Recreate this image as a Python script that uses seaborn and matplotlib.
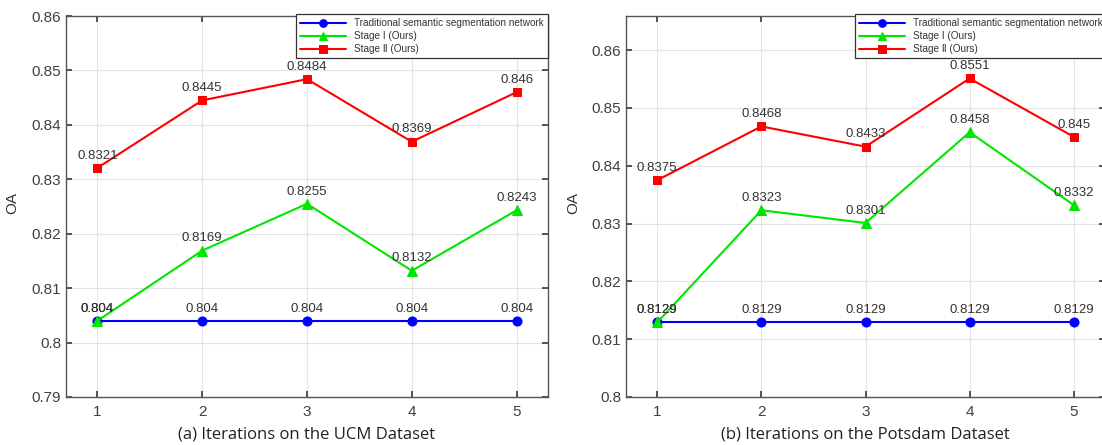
import matplotlib
matplotlib.use("Agg")
import matplotlib.pyplot as plt
import seaborn as sns
import pandas as pd
import numpy as np

iterations = [1, 2, 3, 4, 5]
series_names = ["Traditional semantic segmentation network", "Stage \u2160 (Ours)", "Stage \u2161 (Ours)"]

ucm_traditional = [0.804, 0.804, 0.804, 0.804, 0.804]
ucm_stage1 = [0.804, 0.8169, 0.8255, 0.8132, 0.8243]
ucm_stage2 = [0.8321, 0.8445, 0.8484, 0.8369, 0.846]

pots_traditional = [0.8129, 0.8129, 0.8129, 0.8129, 0.8129]
pots_stage1 = [0.8129, 0.8323, 0.8301, 0.8458, 0.8332]
pots_stage2 = [0.8375, 0.8468, 0.8433, 0.8551, 0.845]

ucm_yticks = [0.79, 0.80, 0.81, 0.82, 0.83, 0.84, 0.85, 0.86]
ucm_yticklabels = ["0.79", "0.8", "0.81", "0.82", "0.83", "0.84", "0.85", "0.86"]
pots_yticks = [0.80, 0.81, 0.82, 0.83, 0.84, 0.85, 0.86]
pots_yticklabels = ["0.8", "0.81", "0.82", "0.83", "0.84", "0.85", "0.86"]

xlabels = ["(a) Iterations on the UCM Dataset", "(b) Iterations on the Potsdam Dataset"]

sns.set_theme(style="whitegrid")
plt.rcParams["font.family"] = ["Liberation Sans", "DejaVu Sans"]

colors = ["#0000ff", "#00e600", "#ff0000"]
markers = ["o", "^", "s"]
msizes = [6.5, 7, 6]

fig = plt.figure(figsize=(11.02, 4.45), dpi=100)
W, H = 1102, 445
ax1 = fig.add_axes([66 / W, 1 - 397 / H, (548 - 66) / W, (397 - 16) / H])
ax2 = fig.add_axes([626 / W, 1 - 397 / H, (1105 - 626) / W, (397 - 16) / H])


def draw(ax, data_lists, yticks, ylabels, ylim, xlabel, legend_x):
    frames = []
    for name, vals in zip(series_names, data_lists):
        frames.append(pd.DataFrame({"Iteration": iterations, "OA": vals, "Series": name}))
    df = pd.concat(frames, ignore_index=True)
    for name, c, m, ms in zip(series_names, colors, markers, msizes):
        sub = df[df["Series"] == name]
        sns.lineplot(data=sub, x="Iteration", y="OA", ax=ax, color=c, marker=m,
                     markersize=ms, markeredgecolor=c, linewidth=1.5, label=name)
    for name in series_names:
        sub = df[df["Series"] == name]
        for xv, yv in zip(sub["Iteration"], sub["OA"]):
            ax.annotate(f"{yv:g}", (xv, yv), xytext=(0, 4.5), textcoords="offset points",
                        ha="center", va="bottom", fontsize=9.5, color="#333333")
    ax.set_xlim(0.7, 5.3)
    ax.set_ylim(*ylim)
    ax.set_xticks(iterations)
    ax.set_xticklabels([str(i) for i in iterations])
    ax.set_yticks(yticks)
    ax.set_yticklabels(ylabels)
    ax.tick_params(axis="both", labelsize=11, colors="#404040", direction="in",
                   length=4, top=True, right=True, bottom=True, left=True)
    ax.tick_params(axis="x", pad=6)
    ax.grid(True, color="#e3e3e3", linewidth=0.8)
    for s in ax.spines.values():
        s.set_color("#555555")
        s.set_linewidth(1.0)
    ax.set_ylabel("OA", fontsize=11, color="#333333")
    ax.yaxis.set_label_coords(-0.096, 0.51)
    ax.set_xlabel(xlabel, fontsize=12, color="#222222", family=["Open Sans", "DejaVu Sans"], labelpad=5)
    leg = ax.legend(loc="upper left", bbox_to_anchor=legend_x, fontsize=7.2, frameon=True,
                    fancybox=False, edgecolor="#333333", framealpha=1, borderpad=0.4,
                    labelspacing=0.3, handlelength=4.6, borderaxespad=0, markerscale=0.85)
    leg.get_frame().set_linewidth(0.9)
    for t in leg.get_texts():
        t.set_color("#333333")
        t.set_family(["Liberation Sans", "DejaVu Sans"])


draw(ax1, [ucm_traditional, ucm_stage1, ucm_stage2], ucm_yticks, ucm_yticklabels,
     (0.79, 0.86), xlabels[0], ((296 - 66) / (548 - 66), 1 + 2 / 381))
draw(ax2, [pots_traditional, pots_stage1, pots_stage2], pots_yticks, pots_yticklabels,
     (0.8, 0.8659), xlabels[1], ((855 - 626) / (1105 - 626), 1 + 2 / 381))

fig.savefig("out.png", dpi=100)
